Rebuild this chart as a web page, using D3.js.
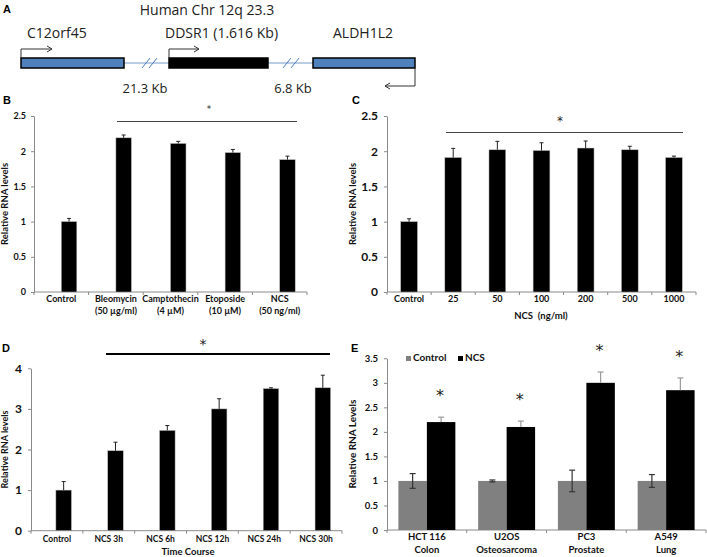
<!DOCTYPE html>
<html><head><meta charset="utf-8">
<script src="https://cdn.jsdelivr.net/npm/d3@7"></script>
<style>body{margin:0;background:#fff}svg{display:block}</style>
</head><body>
<script>
// ---------- DATA ----------
// Panel A (gene map)
const genes = ["C12orf45", "DDSR1 (1.616 Kb)", "ALDH1L2"];
const gaps = ["21.3 Kb", "6.8 Kb"];
const chromTitle = "Human Chr 12q 23.3";
// Panel B
const bCategories = [["Control"], ["Bleomycin", "(50 µg/ml)"], ["Camptothecin", "(4 µM)"], ["Etoposide", "(10 µM)"], ["NCS", "(50 ng/ml)"]];
const bValues = [1.0, 2.19, 2.11, 1.98, 1.88];
const bErrors = [0.045, 0.04, 0.03, 0.045, 0.05];
const bTicks = [0, 0.5, 1, 1.5, 2, 2.5];
// Panel C
const cCategories = ["Control", "25", "50", "100", "200", "500", "1000"];
const cValues = [1.0, 1.91, 2.02, 2.01, 2.045, 2.02, 1.91];
const cErrors = [0.04, 0.13, 0.12, 0.11, 0.10, 0.05, 0.02];
const cTicks = [0, 0.5, 1, 1.5, 2, 2.5];
// Panel D
const dCategories = ["Control", "NCS 3h", "NCS 6h", "NCS 12h", "NCS 24h", "NCS 30h"];
const dValues = [1.0, 1.97, 2.47, 3.0, 3.5, 3.52];
const dErrors = [0.21, 0.21, 0.12, 0.25, 0.02, 0.31];
const dTicks = [0, 1, 2, 3, 4];
// Panel E
const eCategories = [["HCT 116", "Colon"], ["U2OS", "Osteosarcoma"], ["PC3", "Prostate"], ["A549", "Lung"]];
const eSeries = ["Control", "NCS"];
const eControl = [1.0, 1.0, 1.0, 1.0];
const eControlErr = [0.15, 0.02, 0.22, 0.13];
const eNCS = [2.2, 2.1, 3.0, 2.85];
const eNCSErr = [0.10, 0.12, 0.22, 0.25];
const eTicks = [0, 0.5, 1, 1.5, 2, 2.5, 3, 3.5];

// ---------- DRAW ----------
const W = 707, H = 557;
const svg = d3.select("body").append("svg").attr("width", W).attr("height", H);
const FONT = "Lato, 'Open Sans', sans-serif";
const STARFONT = "'DejaVu Sans', sans-serif";
const AX = "#8a8a8a";

function letter(t, x, y) {
  svg.append("text").attr("x", x).attr("y", y).text(t)
    .attr("font-family", "'Liberation Sans', Arial, sans-serif").attr("font-weight", 700)
    .attr("font-size", 11).attr("fill", "#000");
}
function star(g, x, y, size) {
  // y = visual centre of the asterisk
  g.append("text").attr("x", x).attr("y", y + size * 0.42).attr("text-anchor", "middle").text("*")
    .attr("font-family", STARFONT).attr("font-size", size).attr("fill", "#222");
}

// ---- Panel A ----
(function () {
  const g = svg.append("g");
  const tf = "'Open Sans', sans-serif";
  g.append("text").attr("x", 207).attr("y", 15).attr("text-anchor", "middle").text(chromTitle)
    .attr("font-family", tf).attr("font-size", 14).attr("fill", "#222");
  const boxes = [
    { x: 21, w: 103, fill: "#4f81bd", lx: 27 },
    { x: 169, w: 99, fill: "#000", lx: 165 },
    { x: 313, w: 102, fill: "#4f81bd", lx: 333 }
  ];
  g.append("line").attr("x1", 124).attr("x2", 313).attr("y1", 63).attr("y2", 63)
    .attr("stroke", "#4f81bd").attr("stroke-width", 0.8);
  [142, 149, 283, 291].forEach(x => {
    g.append("line").attr("x1", x).attr("y1", 68).attr("x2", x + 8).attr("y2", 58)
      .attr("stroke", "#4f81bd").attr("stroke-width", 1);
  });
  boxes.forEach((b, i) => {
    g.append("rect").attr("x", b.x).attr("y", 58).attr("width", b.w).attr("height", 10)
      .attr("fill", b.fill).attr("stroke", "#000").attr("stroke-width", 1.5);
    g.append("text").attr("x", b.lx).attr("y", 38).text(genes[i])
      .attr("font-family", tf).attr("font-size", 14).attr("fill", "#222");
  });
  const arrowStroke = "#333";
  function arrow(pts, dir) {
    g.append("path").attr("d", d3.line()(pts)).attr("fill", "none").attr("stroke", arrowStroke).attr("stroke-width", 1);
    const [ex, ey] = pts[pts.length - 1];
    g.append("path").attr("d", `M${ex - dir * 5},${ey - 3}L${ex},${ey}L${ex - dir * 5},${ey + 3}`)
      .attr("fill", "none").attr("stroke", arrowStroke).attr("stroke-width", 1);
  }
  arrow([[21, 58], [21, 49], [52, 49]], 1);
  arrow([[169, 58], [169, 49], [199, 49]], 1);
  arrow([[415, 68], [415, 86], [385, 86]], -1);
  g.append("text").attr("x", 145).attr("y", 93).attr("text-anchor", "middle").text(gaps[0])
    .attr("font-family", tf).attr("font-size", 13).attr("fill", "#222");
  g.append("text").attr("x", 293).attr("y", 93).attr("text-anchor", "middle").text(gaps[1])
    .attr("font-family", tf).attr("font-size", 13).attr("fill", "#222");
  letter("A", 3, 13);
})();

// ---- generic single-series bar panel ----
function barPanel(o) {
  const g = svg.append("g");
  const n = o.cats.length;
  const x = d3.scaleBand().domain(d3.range(n)).range([o.x0, o.x1]).padding(0);
  const y = d3.scaleLinear().domain([0, o.max]).range([o.yBottom, o.yTop]);
  const bw = x.bandwidth();
  const ya = g.append("g").attr("transform", `translate(${o.x0},0)`)
    .call(d3.axisLeft(y).tickValues(o.ticks).tickSize(3).tickSizeOuter(0).tickPadding(o.tickPad || 5).tickFormat(d => String(d)));
  ya.select(".domain").attr("stroke", AX);
  ya.selectAll(".tick line").attr("stroke", AX);
  ya.selectAll(".tick text").attr("font-family", FONT).attr("font-weight", 700)
    .attr("font-size", o.yFont).attr("fill", "#111");
  g.append("line").attr("x1", o.x0).attr("x2", o.x1).attr("y1", o.yBottom).attr("y2", o.yBottom).attr("stroke", AX);
  g.selectAll(".xt").data(d3.range(n + 1)).join("line")
    .attr("x1", i => o.x0 + i * bw).attr("x2", i => o.x0 + i * bw)
    .attr("y1", o.yBottom).attr("y2", o.yBottom + 3).attr("stroke", AX);
  const bx = i => x(i) + bw * o.barOff;
  const bwid = bw * o.barW;
  g.selectAll(".bar").data(o.values).join("rect")
    .attr("x", (d, i) => bx(i)).attr("width", bwid)
    .attr("y", d => y(d)).attr("height", d => y(0) - y(d))
    .attr("fill", "#000").attr("stroke", "#bbb").attr("stroke-width", 0.5);
  const eg = g.selectAll(".err").data(o.values).join("g");
  eg.append("line").attr("x1", (d, i) => bx(i) + bwid / 2).attr("x2", (d, i) => bx(i) + bwid / 2)
    .attr("y1", d => y(d)).attr("y2", (d, i) => y(d + o.errs[i])).attr("stroke", "#222").attr("stroke-width", 1);
  eg.append("line").attr("x1", (d, i) => bx(i) + bwid / 2 - 2).attr("x2", (d, i) => bx(i) + bwid / 2 + 2)
    .attr("y1", (d, i) => y(d + o.errs[i])).attr("y2", (d, i) => y(d + o.errs[i])).attr("stroke", "#222").attr("stroke-width", 1);
  g.selectAll(".xl").data(o.cats).join("text")
    .attr("x", (d, i) => x(i) + bw / 2).attr("y", o.labelY)
    .attr("text-anchor", "middle").attr("font-family", FONT).attr("font-weight", 700)
    .attr("font-size", o.xFont).attr("fill", "#111")
    .each(function (d) {
      const lines = Array.isArray(d) ? d : [d];
      d3.select(this).selectAll("tspan").data(lines).join("tspan")
        .attr("x", d3.select(this).attr("x")).attr("dy", (l, k) => k === 0 ? 0 : o.lineH).text(l => l);
    });
  g.append("text").attr("transform", `translate(${o.ylabX},${(o.yBottom + o.yTop) / 2}) rotate(-90)`)
    .attr("text-anchor", "middle").attr("font-family", FONT).attr("font-weight", 700)
    .attr("font-size", o.ylabFont).attr("fill", "#111").text(o.ylab);
  return { g, x, y, bw };
}

// ---- Panel B ----
(function () {
  const p = barPanel({ x0: 34, x1: 307, yBottom: 292, yTop: 116, max: 2.5, ticks: bTicks,
    cats: bCategories, values: bValues, errs: bErrors, barOff: 0.5, barW: 0.284,
    yFont: 9, xFont: 9, labelY: 302, lineH: 12, ylabX: 8, ylabFont: 9.5, ylab: "Relative RNA levels" });
  p.g.append("line").attr("x1", 117).attr("x2", 297).attr("y1", 121.5).attr("y2", 121.5).attr("stroke", "#444").attr("stroke-width", 1);
  star(p.g, 209, 108, 9);
  letter("B", 3, 104);
})();

// ---- Panel C ----
(function () {
  const p = barPanel({ x0: 387, x1: 696, yBottom: 292, yTop: 116, max: 2.5, ticks: cTicks,
    cats: cCategories, values: cValues, errs: cErrors, barOff: 0.31, barW: 0.38,
    yFont: 12, xFont: 9, labelY: 302, lineH: 12, tickPad: 6, ylabX: 356, ylabFont: 9.5, ylab: "Relative RNA levels" });
  p.g.append("line").attr("x1", 446).attr("x2", 683).attr("y1", 132.5).attr("y2", 132.5).attr("stroke", "#444").attr("stroke-width", 1);
  star(p.g, 560, 120, 12);
  p.g.append("text").attr("x", 541).attr("y", 319).attr("text-anchor", "middle").text("NCS  (ng/ml)")
    .attr("font-family", FONT).attr("font-weight", 700).attr("font-size", 9.5).attr("fill", "#111").attr("xml:space", "preserve");
  letter("C", 352, 104);
})();

// ---- Panel D ----
(function () {
  const p = barPanel({ x0: 31, x1: 342, yBottom: 530.7, yTop: 368.3, max: 4, ticks: dTicks,
    cats: dCategories, values: dValues, errs: dErrors, barOff: 0.48, barW: 0.30,
    yFont: 12, xFont: 8.5, labelY: 542, lineH: 12, tickPad: 6, ylabX: 8, ylabFont: 9, ylab: "Relative RNA levels" });
  p.g.append("line").attr("x1", 106).attr("x2", 330).attr("y1", 354).attr("y2", 354).attr("stroke", "#000").attr("stroke-width", 1.8);
  star(p.g, 203, 343, 14);
  p.g.append("text").attr("x", 188).attr("y", 555).attr("text-anchor", "middle").text("Time Course")
    .attr("font-family", FONT).attr("font-weight", 700).attr("font-size", 9.5).attr("fill", "#111");
  letter("D", 2, 352);
})();

// ---- Panel E ----
(function () {
  const g = svg.append("g");
  const x0 = 387, x1 = 706, yB = 530, yT = 358.3;
  const x = d3.scaleBand().domain(d3.range(eCategories.length)).range([x0, x1]).padding(0);
  const bw = x.bandwidth();
  const xi = d3.scaleBand().domain(eSeries).range([0, bw]).paddingOuter(0.4).paddingInner(0);
  const y = d3.scaleLinear().domain([0, 3.5]).range([yB, yT]);
  const ya = g.append("g").attr("transform", `translate(${x0},0)`)
    .call(d3.axisLeft(y).tickValues(eTicks).tickSize(3).tickSizeOuter(0).tickPadding(6).tickFormat(d => String(d)));
  ya.select(".domain").attr("stroke", AX);
  ya.selectAll(".tick line").attr("stroke", AX);
  ya.selectAll(".tick text").attr("font-family", FONT).attr("font-weight", 700).attr("font-size", 9.5).attr("fill", "#111");
  g.append("line").attr("x1", x0).attr("x2", x1).attr("y1", yB).attr("y2", yB).attr("stroke", AX);
  g.selectAll(".xt").data(d3.range(eCategories.length + 1)).join("line")
    .attr("x1", i => x0 + i * bw).attr("x2", i => x0 + i * bw).attr("y1", yB).attr("y2", yB + 3).attr("stroke", AX);
  const colors = { Control: "#808080", NCS: "#000" };
  const seriesData = [
    { s: "Control", v: eControl, e: eControlErr, both: true, ec: "#333" },
    { s: "NCS", v: eNCS, e: eNCSErr, both: false, ec: "#999" }
  ];
  seriesData.forEach(sd => {
    const w = xi.bandwidth();
    g.selectAll(".b" + sd.s).data(sd.v).join("rect")
      .attr("x", (d, i) => x(i) + xi(sd.s)).attr("width", w)
      .attr("y", d => y(d)).attr("height", d => yB - y(d)).attr("fill", colors[sd.s]);
    sd.v.forEach((d, i) => {
      const cx = x(i) + xi(sd.s) + w / 2;
      const lo = sd.both ? d - sd.e[i] : d;
      const hi = d + sd.e[i];
      g.append("line").attr("x1", cx).attr("x2", cx).attr("y1", y(lo)).attr("y2", y(hi)).attr("stroke", sd.ec).attr("stroke-width", 1.2);
      g.append("line").attr("x1", cx - 3).attr("x2", cx + 3).attr("y1", y(hi)).attr("y2", y(hi)).attr("stroke", sd.ec).attr("stroke-width", 1.2);
      if (sd.both) g.append("line").attr("x1", cx - 3).attr("x2", cx + 3).attr("y1", y(lo)).attr("y2", y(lo)).attr("stroke", sd.ec).attr("stroke-width", 1.2);
      if (sd.s === "NCS") star(g, cx - 1, y(hi) - 23, 16);
    });
  });
  g.selectAll(".xl").data(eCategories).join("text")
    .attr("x", (d, i) => x(i) + bw / 2).attr("y", 540)
    .attr("text-anchor", "middle").attr("font-family", FONT).attr("font-weight", 700)
    .attr("font-size", 9.5).attr("fill", "#111")
    .each(function (d) {
      const xx = d3.select(this).attr("x");
      d3.select(this).selectAll("tspan").data(d).join("tspan").attr("x", xx).attr("dy", (l, k) => k ? 12.5 : 0).text(l => l);
    });
  g.append("text").attr("transform", `translate(356,${(yB + yT) / 2}) rotate(-90)`)
    .attr("text-anchor", "middle").attr("font-family", FONT).attr("font-weight", 700)
    .attr("font-size", 10).attr("fill", "#111").text("Relative RNA Levels");
  const lg = g.append("g");
  const lx = [406, 458];
  eSeries.forEach((s, k) => {
    lg.append("rect").attr("x", lx[k]).attr("y", 356).attr("width", 5).attr("height", 5).attr("fill", colors[s]);
    lg.append("text").attr("x", lx[k] + 7).attr("y", 361).text(s)
      .attr("font-family", FONT).attr("font-weight", 700).attr("font-size", 10).attr("fill", "#111");
  });
  letter("E", 351, 352);
})();
</script>
</body></html>
